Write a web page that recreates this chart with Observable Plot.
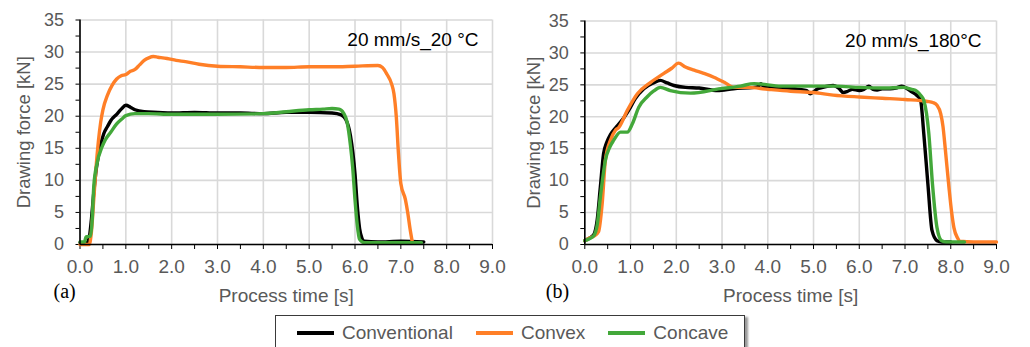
<!DOCTYPE html>
<html><head><meta charset="utf-8">
<script src="https://cdn.jsdelivr.net/npm/d3@7"></script>
<script src="https://cdn.jsdelivr.net/npm/@observablehq/plot@0.6"></script>
<style>
body{margin:0;background:#fff;font-family:"Liberation Sans",Arial,sans-serif;}
#wrap{position:relative;width:1030px;height:347px;overflow:hidden;background:#fff;}
.panel{position:absolute;top:0;}
#legend{position:absolute;left:275px;top:315px;width:470px;height:44px;border:1.5px solid #3a3a3a;box-shadow:3px 2px 2px #9a9a9a;background:#fff;display:flex;align-items:flex-start;padding-left:21px;box-sizing:border-box;}
.item{display:flex;align-items:center;margin-right:23px;height:34px;}
.swatch{width:37px;height:3.5px;margin-right:8px;}
.lab{font-size:19px;color:#595959;}
</style></head><body><div id="wrap"><div id="legend"></div></div>
<script>
const seriesNames = ["Conventional", "Convex", "Concave"];
const seriesColors = ["#000000", "#ff7f27", "#43a83a"];
const panelLabels = ["(a)", "(b)"];
const panelTitles = ["20 mm/s_20 °C", "20 mm/s_180°C"];
const xTitle = "Process time [s]";
const yTitle = "Drawing force [kN]";
const xMajor = [0,1,2,3,4,5,6,7,8,9];
const yMajor = [0,5,10,15,20,25,30,35];
const xMinor = [0,0.5,1,1.5,2,2.5,3,3.5,4,4.5,5,5.5,6,6.5,7,7.5,8,8.5,9];
const yMinor = [0,2.5,5,7.5,10,12.5,15,17.5,20,22.5,25,27.5,30,32.5,35];

// Panel (a): 20 mm/s, 20 °C
const tA_conv = [0,0.15,0.2,0.25,0.3,0.35,0.4,0.45,0.52,0.6,0.67,0.8,0.9,1.0,1.1,1.2,1.4,1.7,2.0,2.5,3.0,3.5,4.0,4.5,5.0,5.5,5.7,5.8,5.9,6.0,6.05,6.1,6.15,6.2,6.5,7.0,7.5];
const fA_conv = [0.3,0.3,1,4,8,11.5,13.8,15.5,17.3,18.4,19.3,20.3,21.1,21.7,21.4,21.0,20.7,20.6,20.5,20.6,20.5,20.5,20.4,20.6,20.6,20.5,20.2,19.5,17,11,6,2.5,1,0.5,0.4,0.5,0.4];
const tA_convex = [0,0.2,0.25,0.3,0.35,0.4,0.45,0.5,0.6,0.7,0.8,0.9,1.0,1.1,1.2,1.3,1.4,1.5,1.6,1.7,1.9,2.1,2.3,2.6,3.0,3.5,4.0,4.5,5.0,5.5,6.0,6.5,6.6,6.7,6.8,6.85,6.9,6.95,7.0,7.1,7.15,7.2,7.25];
const fA_convex = [0,0,2,7,12,16,19,21,23.3,24.8,25.8,26.3,26.5,27,27.3,28,28.7,29.1,29.3,29.2,29,28.7,28.5,28.1,27.8,27.7,27.6,27.6,27.7,27.7,27.8,27.9,27.6,26.5,25,23.5,20,14,9.5,7,5,2.5,0.4];
const tA_conc = [0,0.1,0.13,0.23,0.27,0.3,0.37,0.48,0.55,0.67,0.8,0.92,1.0,1.2,1.5,2.0,3.0,4.0,4.5,5.0,5.3,5.5,5.65,5.75,5.83,5.9,5.95,6.0,6.05,6.1,6.2,6.5,7.0,7.45];
const fA_conc = [0.4,0.4,1.2,1.3,4.3,9,12.6,15.2,16.3,17.5,18.8,19.6,20.1,20.4,20.4,20.3,20.3,20.4,20.7,21.0,21.1,21.2,21.1,20.5,19.0,15.5,12,7,3,0.8,0.3,0.3,0.3,0.3];

// Panel (b): 20 mm/s, 180 °C
const tB_conv = [0,0.1,0.2,0.27,0.34,0.41,0.48,0.56,0.7,0.85,1.0,1.1,1.29,1.5,1.65,1.8,1.95,2.2,2.5,2.9,3.25,3.7,3.8,3.85,3.9,4.0,4.4,4.7,4.85,4.93,5.0,5.07,5.2,5.43,5.55,5.65,5.75,5.85,6.0,6.1,6.21,6.3,6.39,6.5,6.68,6.8,6.93,7.05,7.15,7.25,7.34,7.41,7.5,7.59,7.7,7.8,8.0];
const fB_conv = [0.6,1.0,1.6,3.8,9,14.2,16,17.2,18.5,19.8,21.5,22.8,24.4,25.3,25.7,25.3,24.9,24.6,24.5,24.1,24.4,24.6,24.8,25.2,24.8,24.6,24.5,24.3,24.1,23.6,23.9,24.3,24.6,24.9,24.5,23.8,24.0,24.3,24.1,24.3,24.8,24.3,24.2,24.4,24.4,24.5,24.8,24.4,23.9,23.4,22.6,17.4,9.5,2.2,0.6,0.4,0.4];
const tB_convex = [0,0.1,0.2,0.3,0.38,0.45,0.56,0.67,0.74,0.93,1.15,1.44,1.73,1.9,2.05,2.2,2.39,2.6,2.82,3.05,3.26,3.55,4.0,4.5,5.0,5.43,6.0,6.5,7.0,7.49,7.62,7.7,7.78,7.83,7.88,7.96,8.02,8.07,8.15,8.2,8.5,9.0];
const fB_convex = [0.6,1.0,1.3,2,6.4,13.2,16.3,17.9,18.3,21,23.6,25.4,26.8,27.6,28.4,27.8,27.3,26.8,26.2,25.4,24.6,24.6,24.3,24.0,23.8,23.4,23.1,22.9,22.7,22.4,22.2,21.8,20.5,18.5,15,9,5,2.6,1,0.5,0.4,0.4];
const tB_conc = [0,0.1,0.2,0.27,0.34,0.45,0.55,0.63,0.78,0.93,1.04,1.18,1.36,1.5,1.65,1.87,2.31,2.97,3.4,3.7,4.3,5.0,5.5,6.0,6.5,6.97,7.15,7.26,7.35,7.41,7.47,7.52,7.6,7.7,7.8,7.9,8.3];
const fB_conc = [0.6,0.9,1.4,3,7.4,13.2,15.3,16.3,17.6,17.6,18.9,21.5,23.1,24.0,24.6,24.1,23.7,24.4,24.8,25.2,24.8,24.8,24.8,24.6,24.5,24.6,24.3,24.0,23.3,22.6,20.5,17.4,9.5,2.6,0.6,0.4,0.4];

function rows(pairs) {
  const out = [];
  pairs.forEach(([t, f], k) => t.forEach((v, j) => out.push({series: seriesNames[k], t: v, f: f[j]})));
  return out;
}
const dataA = rows([[tA_conv, fA_conv], [tA_convex, fA_convex], [tA_conc, fA_conc]]);
const dataB = rows([[tB_conv, fB_conv], [tB_convex, fB_convex], [tB_conc, fB_conc]]);

function panel(i, data, left, ml, mr, mt, titleDx, labelDx, yTitleDx) {
  const chart = Plot.plot({
    width: 515, height: 310,
    marginLeft: ml, marginRight: mr, marginTop: mt, marginBottom: 66,
    style: {fontFamily: '"Liberation Sans", Arial, sans-serif', fontSize: "18px", background: "transparent", overflow: "visible"},
    x: {domain: [0, 9]},
    y: {domain: [0, 35]},
    color: {domain: seriesNames, range: seriesColors},
    marks: [
      Plot.gridX(xMajor, {stroke: "#d9d9d9", strokeOpacity: 1, strokeWidth: 1.6}),
      Plot.gridY(yMajor, {stroke: "#d9d9d9", strokeOpacity: 1, strokeWidth: 1.6}),
      Plot.axisX(xMinor, {tickSize: 5, tickPadding: 10, tickFormat: d => Number.isInteger(d) ? d.toFixed(1) : "",
        stroke: "black", fill: "#595959", fontSize: 19, label: null}),
      Plot.axisY(yMinor, {tickSize: 4, tickFormat: () => "", stroke: "black", label: null}),
      Plot.text(yMajor, {y: d => d, text: d => String(d), frameAnchor: "left", textAnchor: "end", dx: -16, fill: "#595959", fontSize: 18}),
      Plot.text([xTitle], {text: d => d, frameAnchor: "bottom", lineAnchor: "middle", dy: 51, fill: "#595959", fontSize: 19}),
      Plot.text([yTitle], {text: d => d, frameAnchor: "left", lineAnchor: "middle", textAnchor: "middle", rotate: -90, dx: yTitleDx, fill: "#595959", fontSize: 18.5}),
      Plot.line(data, {x: "t", y: "f", z: "series", stroke: "series", strokeWidth: 3.4, curve: "monotone-x"}),
      Plot.ruleX([0], {stroke: "black", strokeWidth: 1.6}),
      Plot.ruleY([0], {stroke: "black", strokeWidth: 1.6}),
      Plot.text([panelTitles[i]], {text: d => d, frameAnchor: "top-right", dx: titleDx, dy: 12, fill: "black", fontSize: 19}),
      Plot.text([panelLabels[i]], {text: d => d, frameAnchor: "bottom-left", lineAnchor: "middle", textAnchor: "start", dx: labelDx, dy: 47,
        fill: "black", fontSize: 20, fontFamily: '"Liberation Serif", "Times New Roman", serif'})
    ]
  });
  chart.classList.add("panel");
  chart.style.left = left + "px";
  document.getElementById("wrap").insertBefore(chart, document.getElementById("legend"));
}
panel(0, dataA, 0, 79.5, 23, 19.5, -14, -26.5, -55.5);
panel(1, dataB, 515, 69.3, 34, 20.5, -15, -39, -50.3);

const legend = document.getElementById("legend");
seriesNames.forEach((n, k) => {
  const it = document.createElement("div");
  it.className = "item";
  it.innerHTML = `<span class="swatch" style="background:${seriesColors[k]}"></span><span class="lab">${n}</span>`;
  legend.appendChild(it);
});
</script></body></html>
